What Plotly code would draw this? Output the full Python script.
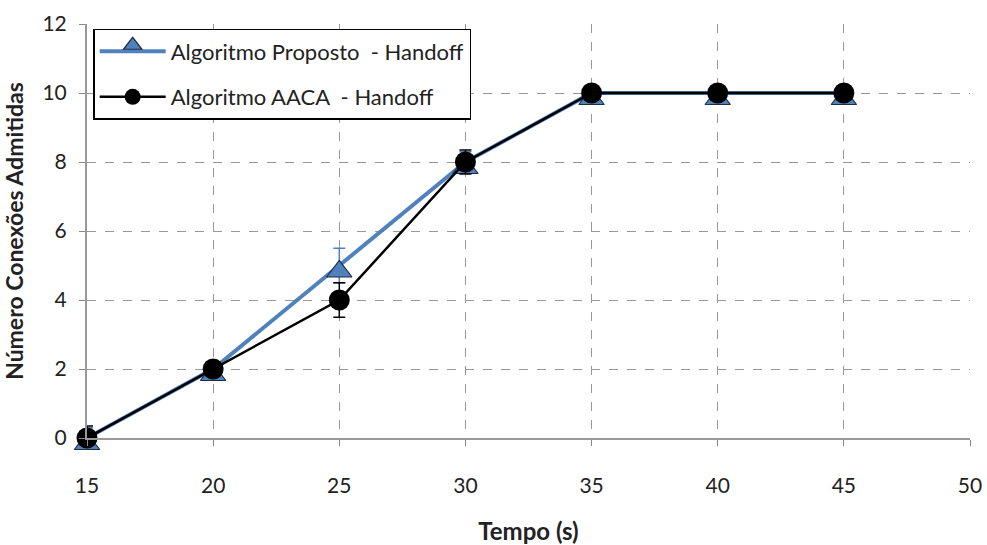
import plotly.graph_objects as go

tempo = [15, 20, 25, 30, 35, 40, 45]
proposto = [0, 2, 5, 8, 10, 10, 10]
proposto_err = [0.3, 0, 0.5, 0.3, 0, 0, 0]
aaca = [0, 2, 4, 8, 10, 10, 10]
aaca_err = [0.35, 0, 0.5, 0.35, 0, 0, 0]

x_ticks = [15, 20, 25, 30, 35, 40, 45, 50]
y_ticks = [0, 2, 4, 6, 8, 10, 12]

FONT = "Lato, Open Sans, sans-serif"

fig = go.Figure()
fig.add_trace(go.Scatter(
    x=tempo, y=proposto, mode="lines+markers",
    name="Algoritmo Proposto\u00a0\u00a0- Handoff",
    legendgroup="a", cliponaxis=False,
    line=dict(color="#4F81BD", width=4),
    marker=dict(symbol="triangle-up", size=22, color="#4F81BD", standoff=6,
                line=dict(color="#1F2D3F", width=1.2)),
    error_y=dict(type="data", array=proposto_err, color="#4F81BD",
                 thickness=1.5, width=6),
))
fig.add_trace(go.Scatter(
    x=tempo, y=aaca, mode="lines+markers",
    name="Algoritmo AACA\u00a0\u00a0- Handoff",
    legendgroup="b", cliponaxis=False,
    line=dict(color="black", width=2.5),
    marker=dict(symbol="circle", size=21, color="black"),
    error_y=dict(type="data", array=aaca_err, color="black",
                 thickness=1.5, width=6),
))

fig.update_layout(
    width=987, height=545,
    margin=dict(l=87, r=17, t=24, b=107),
    paper_bgcolor="white", plot_bgcolor="white",
    font=dict(family=FONT, size=20, color="#222"),
    legend=dict(
        x=0.007, y=0.988, xanchor="left", yanchor="top",
        bgcolor="white", bordercolor="black", borderwidth=1.5,
        font=dict(family=FONT, size=22, color="#222"),
        tracegroupgap=14, itemwidth=66,
    ),
    xaxis=dict(
        range=[15, 50], tickvals=x_ticks, ticks="outside", ticklen=6,
        tickcolor="#888", showline=True, linecolor="#999", linewidth=2,
        showgrid=True, gridcolor="#999", griddash="dash", gridwidth=1,
        zeroline=False, tickfont=dict(size=21), automargin=False,
        ticklabelstandoff=22,
        title=dict(text="<b>Tempo (s)</b>", font=dict(size=24), standoff=28),
    ),
    yaxis=dict(
        range=[0, 12], tickvals=y_ticks, ticks="outside", ticklen=6,
        tickcolor="#888", showline=True, linecolor="#999", linewidth=2,
        showgrid=True, gridcolor="#999", griddash="dash", gridwidth=1,
        zeroline=False, tickfont=dict(size=21), automargin=False,
        ticklabelstandoff=8,
        title=dict(text="<b>Número Conexões Admitidas</b>", font=dict(size=23), standoff=12),
    ),
)

fig.write_html("out.html", config={"displayModeBar": False},
               post_script="document.body.style.margin='0';")
